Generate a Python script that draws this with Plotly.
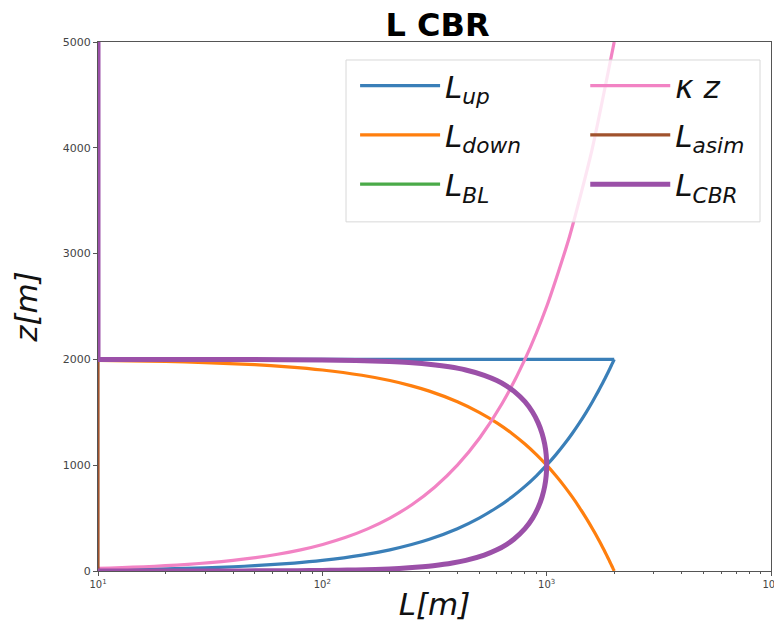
import plotly.graph_objects as go

# ---- data ----
z_profile = [0, 1, 2, 3, 5, 7, 10, 15, 20, 30, 40, 50, 75, 100, 150, 200, 250, 300, 400, 500, 600,
             700, 800, 900, 1000, 1100, 1200, 1300, 1400, 1500, 1600, 1700, 1750, 1800, 1850, 1900,
             1930, 1950, 1970, 1980, 1990, 1995, 1999, 2000]
L_up = [1, 1, 2, 3, 5, 7, 10, 15, 20, 30, 40, 50, 75, 100, 150, 200, 250, 300, 400, 500, 600,
        700, 800, 900, 1000, 1100, 1200, 1300, 1400, 1500, 1600, 1700, 1750, 1800, 1850, 1900,
        1930, 1950, 1970, 1980, 1990, 1995, 1999, 2000]
z_up_tail = [2000, 2000]
L_up_tail = [2000, 1]
L_down = [2000, 1999, 1998, 1997, 1995, 1993, 1990, 1985, 1980, 1970, 1960, 1950, 1925, 1900, 1850,
          1800, 1750, 1700, 1600, 1500, 1400, 1300, 1200, 1100, 1000, 900, 800, 700, 600, 500,
          400, 300, 250, 200, 150, 100, 70, 50, 30, 20, 10, 5, 1, 1]
L_cbr = [10, 44.7, 63.2, 77.4, 99.9, 118.1, 141.1, 172.6, 199.0, 243.1, 280.0, 312.2, 380.0, 435.9,
         526.8, 600.0, 661.4, 714.1, 800.0, 866.0, 916.5, 953.9, 979.8, 995.0, 1000.0, 995.0,
         979.8, 953.9, 916.5, 866.0, 800.0, 714.1, 661.4, 600.0, 526.8, 435.9, 367.6, 312.2,
         243.1, 199.0, 141.1, 99.9, 44.7, 10]
z_cbr_tail = [2000, 5000]
L_cbr_tail = [10, 10]

z_kappa = [0, 5, 10, 20, 25, 32, 40, 50, 63, 79, 100, 126, 158, 200, 251, 316, 398, 500, 631, 794,
           1000, 1259, 1585, 1995, 2512, 3162, 3981, 5000]
L_kappa = [1, 2, 4, 8, 10, 12.8, 16, 20, 25.2, 31.6, 40, 50.4, 63.2, 80, 100.4, 126.4, 159.2, 200,
           252.4, 317.6, 400, 503.6, 634, 798, 1004.8, 1264.8, 1592.4, 2000]

z_bl = [2000, 5000]
L_bl = [10, 10]
z_asim = [0, 2000]
L_asim = [10, 10]

x_tickvals = [10, 100, 1000, 10000]
x_ticktext = ["10<sup>1</sup>", "10<sup>2</sup>", "10<sup>3</sup>", "10<sup>4</sup>"]
x_minor_vals = [20, 30, 40, 50, 60, 70, 80, 90, 200, 300, 400, 500, 600, 700, 800, 900,
                2000, 3000, 4000, 5000, 6000, 7000, 8000, 9000]
y_tickvals = [0, 1000, 2000, 3000, 4000, 5000]

C_UP = "#3a7fb8"
C_DOWN = "#ff7f0e"
C_BL = "#4aaa48"
C_K = "#f283c4"
C_ASIM = "#a0522d"
C_CBR = "#9b50a8"

fig = go.Figure()

sp = dict(shape="spline", smoothing=0.6)
fig.add_trace(go.Scatter(x=L_up, y=z_profile, mode="lines", line=dict(color=C_UP, width=3.2, **sp),
                         name="<i>L<sub>up</sub></i>", legendgroup="up", legend="legend", legendrank=1))
fig.add_trace(go.Scatter(x=L_up_tail, y=z_up_tail, mode="lines", line=dict(color=C_UP, width=3.2),
                         legendgroup="up", showlegend=False))
fig.add_trace(go.Scatter(x=L_down, y=z_profile, mode="lines", line=dict(color=C_DOWN, width=3.2, **sp),
                         name="<i>L<sub>down</sub></i>", legendgroup="down", legend="legend", legendrank=2))
fig.add_trace(go.Scatter(x=L_bl, y=z_bl, mode="lines", line=dict(color=C_BL, width=3.2),
                         name="<i>L<sub>BL</sub></i>", legendgroup="bl", legend="legend", legendrank=3))
fig.add_trace(go.Scatter(x=L_kappa, y=z_kappa, mode="lines", line=dict(color=C_K, width=3.2, **sp),
                         name="<i>κ z</i>", legendgroup="k", legend="legend2", legendrank=1))
fig.add_trace(go.Scatter(x=L_asim, y=z_asim, mode="lines", line=dict(color=C_ASIM, width=3.2),
                         name="<i>L<sub>asim</sub></i>", legendgroup="asim", legend="legend2", legendrank=2))
fig.add_trace(go.Scatter(x=L_cbr, y=z_profile, mode="lines", line=dict(color=C_CBR, width=5, **sp),
                         name="<i>L<sub>CBR</sub></i>", legendgroup="cbr", legend="legend2", legendrank=3))
fig.add_trace(go.Scatter(x=L_cbr_tail, y=z_cbr_tail, mode="lines", line=dict(color=C_CBR, width=5),
                         legendgroup="cbr", showlegend=False))

leg_common = dict(yanchor="top", xanchor="left", orientation="v", bgcolor="rgba(0,0,0,0)",
                  borderwidth=0, font=dict(size=31, color="#111"), tracegroupgap=6, itemwidth=80)

# the page body has an 8px default margin, so the figure is sized 774x625
fig.update_layout(
    width=774, height=625,
    margin=dict(l=90, r=11, t=34, b=62),
    paper_bgcolor="white", plot_bgcolor="white",
    font=dict(family="DejaVu Sans", color="#222"),
    title=dict(text="<b>L CBR</b>", x=0.555, xanchor="center", y=0.973, yanchor="middle",
               font=dict(size=32, color="black")),
    showlegend=True,
    legend=dict(x=0.382, y=0.968, **leg_common),
    legend2=dict(x=0.724, y=0.968, **leg_common),
    shapes=[dict(type="rect", xref="paper", yref="paper", x0=0.3685, x1=0.9837, y0=0.66, y1=0.966,
                 line=dict(color="#d8d8d8", width=1), fillcolor="rgba(255,255,255,0.8)", layer="above")],
    xaxis=dict(type="log", range=[1, 4], tickvals=x_tickvals, ticktext=x_ticktext, automargin=False,
               ticks="outside", ticklen=4, tickcolor="#555", tickfont=dict(size=10, color="#444"),
               showgrid=False, zeroline=False, showline=True, linecolor="#555", linewidth=1, mirror=True,
               minor=dict(tickvals=x_minor_vals, ticks="outside", ticklen=2, tickcolor="#555", showgrid=False),
               title=dict(text="<i>L[m]</i>", font=dict(size=31, color="#111"), standoff=4)),
    yaxis=dict(range=[0, 5000], tickvals=y_tickvals, ticks="outside", ticklen=4, tickcolor="#555",
               tickfont=dict(size=11, color="#444"), automargin=False,
               showgrid=False, zeroline=False, showline=True, linecolor="#555", linewidth=1, mirror=True,
               title=dict(text="<i>z[m]</i>", font=dict(size=31, color="#111"), standoff=22)),
)

fig.write_html("out.html")
